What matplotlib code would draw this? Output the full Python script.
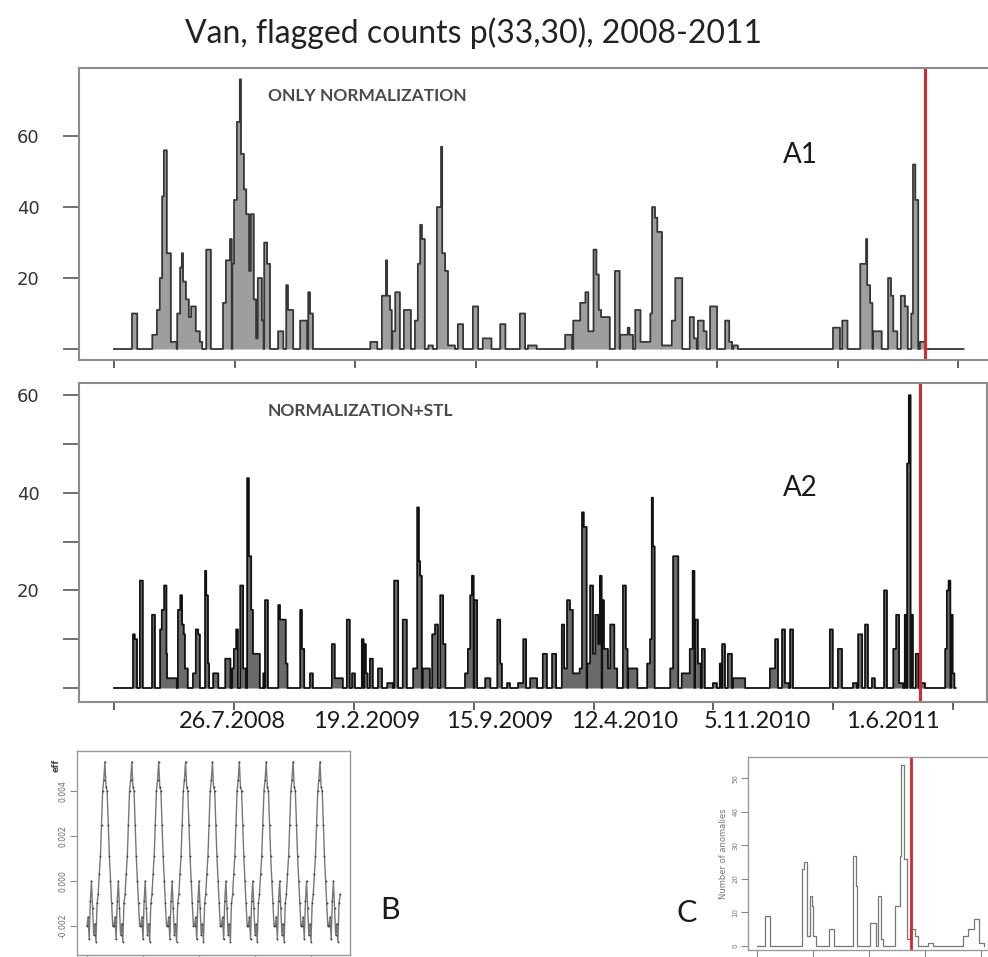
import numpy as np
import matplotlib
matplotlib.use("Agg")
import matplotlib.pyplot as plt

# ---- flagged counts, daily, day 0 = 31.12.2007 ----
# bursts given as (start day, length in days, count)
a1_start = [31, 66, 74, 79, 83, 86, 91, 98, 109, 114, 117, 119, 124, 129, 133, 141, 148, 159,
            188, 193, 200, 204, 207, 212, 217, 219, 224, 228, 233, 236, 241, 245, 248, 255, 259, 264,
            283, 297, 300, 321, 335, 338, 442, 462, 469, 471, 476, 480, 485, 500, 519, 524, 528, 531,
            542, 557, 564, 566, 571, 576, 593, 619, 636, 666, 700, 714, 778, 792, 804, 813, 818, 827,
            832, 836, 838, 864, 873, 886, 899, 908, 925, 928, 933, 936, 945, 962, 968, 993, 1000, 1007,
            1017, 1028, 1054, 1061, 1068, 1240, 1256, 1287, 1297, 1299, 1304, 1309, 1335, 1340, 1344,
            1357, 1364, 1375, 1378, 1382, 1390]
a1_len = [9, 9, 5, 5, 3, 5, 7, 10, 8, 3, 2, 5, 5, 4, 8, 7, 4, 8,
          5, 7, 3, 3, 5, 5, 2, 5, 4, 5, 3, 5, 4, 3, 7, 3, 5, 5,
          9, 3, 9, 12, 3, 5, 12, 7, 2, 5, 3, 5, 8, 12, 5, 4, 3, 5,
          8, 7, 2, 5, 5, 12, 9, 9, 15, 9, 9, 15, 12, 12, 9, 5, 9, 5,
          4, 4, 17, 8, 22, 3, 9, 17, 3, 5, 4, 9, 17, 7, 12, 7, 5, 10,
          5, 12, 7, 5, 8, 12, 9, 10, 2, 5, 4, 15, 5, 4, 7,
          7, 5, 3, 4, 5, 9]
a1_val = [10, 4, 11, 20, 43, 56, 27, 2, 10, 23, 27, 19, 14, 9, 12, 5, 2, 28,
          13, 25, 31, 24, 42, 64, 76, 55, 45, 38, 22, 38, 14, 3, 20, 8, 30, 24,
          5, 18, 11, 8, 16, 10, 2, 15, 25, 15, 11, 5, 16, 11, 8, 24, 35, 31,
          1, 40, 57, 27, 22, 1, 7, 12, 3, 7, 10, 1, 4, 8, 13, 16, 5, 28,
          21, 11, 9, 22, 4, 6, 11, 2, 10, 40, 37, 33, 1, 8, 20, 9, 3, 8,
          5, 12, 8, 2, 1, 6, 8, 24, 31, 18, 13, 5, 20, 15, 5,
          15, 12, 10, 52, 42, 2]

a2_start = [33, 36, 45, 66, 80, 83, 87, 90, 92, 111, 115, 118, 121, 123, 137, 142, 146, 158, 160,
            163, 172, 193, 205, 208, 212, 219, 224, 231, 234, 238, 241, 259, 262, 285, 288, 298, 323,
            326, 340, 378, 383, 404, 413, 430, 434, 437, 444, 458, 474, 486, 501, 519, 526, 529, 531,
            536, 552, 557, 566, 571, 609, 614, 618, 621, 625, 644, 665, 670, 682, 701, 710, 722, 744,
            760, 777, 781, 786, 791, 796, 808, 812, 815, 821, 826, 831, 835, 840, 843, 847, 850, 857,
            861, 868, 883, 888, 892, 925, 930, 933, 935, 965, 970, 985, 999, 1004, 1008, 1013, 1020,
            1039, 1051, 1055, 1065, 1074, 1138, 1147, 1159, 1164, 1173, 1242, 1256, 1282, 1291, 1303,
            1315, 1336, 1352, 1357, 1362, 1372, 1376, 1379, 1383, 1391, 1398, 1442, 1445, 1448, 1452,
            1455]
a2_len = [3, 4, 5, 5, 3, 4, 4, 2, 17, 4, 3, 3, 2, 5, 5, 4, 3, 2, 3,
          2, 9, 9, 3, 4, 3, 5, 5, 3, 4, 3, 12, 2, 5, 3, 10, 3, 3,
          4, 5, 5, 14, 5, 5, 3, 3, 3, 5, 7, 10, 7, 7, 7, 3, 2, 3,
          12, 5, 5, 5, 4, 9, 4, 3, 3, 5, 9, 5, 3, 5, 9, 5, 12, 7,
          7, 4, 5, 5, 5, 12, 4, 3, 5, 5, 5, 4, 5, 4, 3, 3, 7, 4,
          7, 5, 5, 3, 16, 5, 3, 2, 3, 5, 9, 14, 5, 3, 5, 5, 5,
          7, 3, 5, 7, 21, 9, 5, 5, 7, 5, 5, 7, 7, 7, 5,
          5, 5, 5, 5, 7, 3, 3, 3, 3, 5, 9, 3, 3, 3, 3,
          3]
a2_val = [11, 10, 22, 15, 12, 16, 21, 7, 2, 16, 19, 13, 11, 4, 3, 12, 11, 24, 19,
          5, 3, 6, 4, 8, 12, 21, 4, 43, 27, 16, 7, 3, 18, 17, 14, 5, 16,
          8, 3, 9, 2, 14, 3, 10, 9, 3, 6, 4, 1, 22, 14, 4, 37, 26, 23,
          4, 11, 13, 19, 9, 3, 8, 19, 23, 18, 2, 14, 5, 1, 1, 10, 2, 7,
          7, 13, 4, 18, 16, 3, 4, 36, 33, 5, 21, 7, 15, 9, 23, 18, 8, 4,
          13, 4, 21, 8, 4, 5, 10, 39, 29, 4, 27, 3, 8, 24, 14, 5, 8,
          1, 5, 9, 7, 2, 4, 10, 12, 1, 12, 12, 8, 1, 11, 13,
          2, 20, 8, 15, 1, 15, 46, 60, 15, 7, 1, 8, 20, 22, 15,
          3]

n_days_a1 = 1466
n_days_a2 = 1461
quake_day = 1399

tick_dates = ["2007-12-31", "2008-07-26", "2009-02-19", "2009-09-15",
              "2010-04-12", "2010-11-05", "2011-06-01", "2011-12-26"]
date_labels = ["26.7.2008", "19.2.2009", "15.9.2009", "12.4.2010", "5.11.2010", "1.6.2011"]
date_label_x = [206, 439, 670, 885, 1116, 1352]   # where each pasted label sits (days)

# ---- STL seasonal component, one 24 h cycle ----
season_cycle = [-0.0020, -0.0016, -0.0026, -0.0009, 0.0000, -0.0012, -0.0024, -0.0019,
                -0.0027, -0.0010, -0.0006, 0.0003, 0.0011, 0.0025, 0.0040, 0.0045,
                0.0053, 0.0042, 0.0040, 0.0025, 0.0011, 0.0000, -0.0010, -0.0020]
season_hours = 227

# ---- number of anomalies (inset C) ----
c_start = [7, 40, 42, 45, 47, 49, 50, 64, 86, 88, 101, 108, 111, 123, 128, 129, 131, 134, 137,
           141, 153, 184, 189, 194, 198]
c_len = [5, 2, 3, 2, 2, 1, 3, 5, 2, 1, 5, 3, 2, 5, 2, 2, 3, 4, 4, 3, 4, 5, 5, 4, 5]
c_val = [9, 23, 25, 3, 15, 12, 3, 5, 27, 18, 7, 15, 2, 12, 27, 54, 26, 2, 5, 3, 1, 3, 5, 8, 1]
c_len_total = 204
c_event = 138


def bursts(n, start, length, val):
    s = np.zeros(n)
    for a, l, v in zip(start, length, val):
        s[a:a + l] = np.maximum(s[a:a + l], v)
    return s


W, H = 988, 957
fig = plt.figure(figsize=(W / 100, H / 100), dpi=100)
fig.patch.set_facecolor("white")


def box(l, t, r, b):
    return fig.add_axes([l / W, 1 - b / H, (r - l) / W, (b - t) / H])


t0 = np.datetime64("2007-12-31")
tick_days = [(np.datetime64(d) - t0).astype(int) for d in tick_dates]
RED = "#d9262b"
LAB = ["Lato", "DejaVu Sans"]


def style_main(ax, yt, ylab):
    for sp in ax.spines.values():
        sp.set_color("#8c8c8c")
        sp.set_linewidth(1.5)
    ax.set_xticks(tick_days)
    ax.set_xticklabels([])
    ax.tick_params(axis="x", length=6, width=1.3, color="#555555", direction="out")
    ax.set_yticks(yt)
    ax.set_yticklabels(ylab, fontsize=13, color="#333333", family="DejaVu Sans")
    ax.tick_params(axis="y", length=11.5, width=1.3, color="#666666", pad=17)


def counts(ax, n, s, line, fill):
    x = np.arange(n)
    ax.fill_between(x, 0, s, step="post", color=fill, lw=0)
    ax.plot(x, s, drawstyle="steps-post", color=line, lw=1.3)


# A1
ax1 = box(79, 68, 990, 360)
s1 = bursts(n_days_a1, a1_start, a1_len, a1_val)
counts(ax1, n_days_a1, s1, "#363636", "#9e9e9e")
ax1.axvline(quake_day, color=RED, lw=2.2)
ax1.set_xlim(-60.4, 1510.8)
ax1.set_ylim(-3.1, 79.2)
style_main(ax1, [0, 20, 40, 60], ["", "20", "40", "60"])
ax1.text(0.207, 0.904, "ONLY NORMALIZATION", transform=ax1.transAxes, ha="left", va="center",
         fontsize=12.5, fontweight="bold", color="#4a4a4a", family=LAB)

# A2
ax2 = box(79, 383, 987, 702)
s2 = bursts(n_days_a2, a2_start, a2_len, a2_val)
counts(ax2, n_days_a2, s2, "#111111", "#6a6a6a")
ax2.axvline(quake_day, color=RED, lw=2.2)
ax2.set_xlim(-60.7, 1514.6)
ax2.set_ylim(-2.87, 62.5)
style_main(ax2, [0, 10, 20, 30, 40, 50, 60], ["", "", "20", "", "40", "", "60"])
ax2.text(0.208, 0.912, "NORMALIZATION+STL", transform=ax2.transAxes, ha="left", va="center",
         fontsize=12.5, fontweight="bold", color="#4a4a4a", family=LAB)
for x, lab in zip(date_label_x, date_labels):
    ax2.text(x, -0.06, lab, transform=ax2.get_xaxis_transform(), ha="center", va="center",
             fontsize=17, color="#1a1a1a", family=LAB)

# B: seasonal component
axb = box(77, 751, 350, 955)
season = np.tile(season_cycle, season_hours // len(season_cycle) + 1)[:season_hours]
axb.plot(np.arange(season_hours), season, color="#777777", lw=1.0)
axb.plot(np.arange(season_hours), season, "o", ms=1.3, color="#3a3a3a", mew=0)
axb.set_xlim(-8.9, 234.8)
axb.set_ylim(-0.00329, 0.00578)
axb.set_xticks([0, 50, 100, 150, 200])
axb.set_xticklabels([])
axb.set_yticks([-0.002, 0.0, 0.002, 0.004])
axb.set_yticklabels(["-0.002", "0.000", "0.002", "0.004"], fontsize=5.5, color="#666666",
                    rotation=90, va="center")
axb.tick_params(length=5, width=0.8, color="#888888", pad=2)
for sp in axb.spines.values():
    sp.set_color("#9a9a9a")
    sp.set_linewidth(1.0)
axb.text(-0.075, 0.93, "eff", transform=axb.transAxes, rotation=90, ha="center", va="center",
         fontsize=6, fontweight="bold", color="#444444")

# C: anomalies
axc = box(748, 757, 996, 950)
sc = bursts(c_len_total, c_start, c_len, c_val)
axc.plot(np.arange(c_len_total), sc, drawstyle="steps-post", color="#777777", lw=0.9)
axc.axvline(c_event, color=RED, lw=2.0)
axc.set_xlim(-8.1, 213.6)
axc.set_ylim(-1.2, 56.4)
axc.set_xticks([0, 50, 100, 150, 200])
axc.set_xticklabels([])
axc.set_yticks([0, 10, 20, 30, 40, 50])
axc.set_yticklabels(["0", "10", "20", "30", "40", "50"], fontsize=5, color="#777777",
                    rotation=90, va="center")
axc.tick_params(length=5, width=0.8, color="#888888", pad=2)
for sp in axc.spines.values():
    sp.set_color("#9a9a9a")
    sp.set_linewidth(1.0)
axc.set_ylabel("Number of anomalies", fontsize=6, color="#777777", labelpad=3)

# titles and panel letters
fig.text(473 / W, 1 - 33 / H, "Van, flagged counts p(33,30), 2008-2011", ha="center", va="center",
         fontsize=23, color="#222222", family=LAB)
for s, x, y, fs in [("A1", 800, 155, 20), ("A2", 800, 488, 20), ("B", 390, 910, 22), ("C", 687, 913, 22)]:
    fig.text(x / W, 1 - y / H, s, ha="center", va="center", fontsize=fs, color="#1a1a1a", family=LAB)

fig.savefig("out.png", dpi=100, facecolor="white")
